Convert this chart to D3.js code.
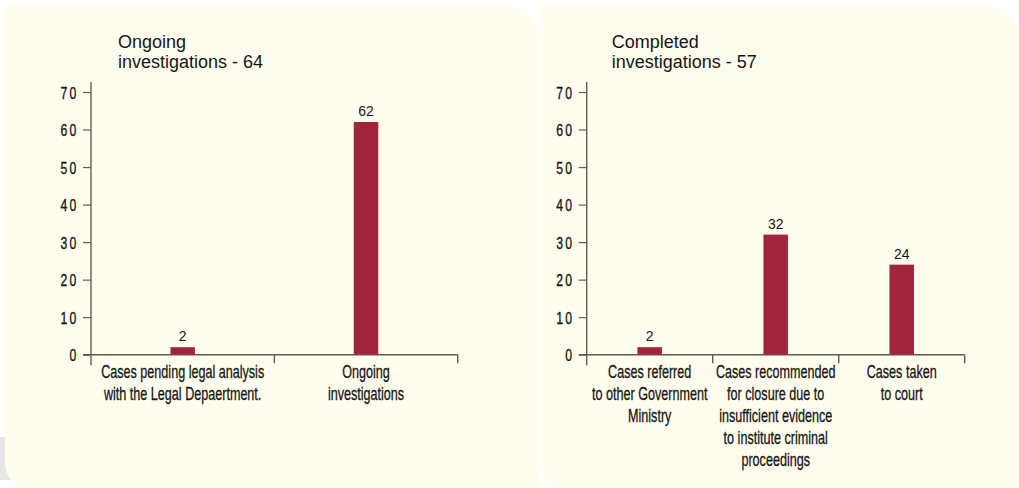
<!DOCTYPE html>
<html>
<head>
<meta charset="utf-8">
<script src="https://cdn.jsdelivr.net/npm/d3@7"></script>
<style>
  html, body { margin: 0; padding: 0; background: #ffffff; }
  svg { display: block; }
</style>
</head>
<body>
<svg id="chart" width="1019" height="488"></svg>
<script>
// ---- data ----
const leftTitle = ["Ongoing", "investigations - 64"];
const leftCategories = [
  ["Cases pending legal analysis", "with the Legal Depaertment."],
  ["Ongoing", "investigations"]
];
const leftValues = [2, 62];

const rightTitle = ["Completed", "investigations - 57"];
const rightCategories = [
  ["Cases referred", "to other Government", "Ministry"],
  ["Cases recommended", "for closure due to", "insufficient evidence", "to institute criminal", "proceedings"],
  ["Cases taken", "to court"]
];
const rightValues = [2, 32, 24];

const yTicks = [0, 10, 20, 30, 40, 50, 60, 70];

// ---- style ----
const panelFill = "#FFFDEE";
const barColor = "#A1253F";
const axisColor = "#5f5d58";
const textColor = "#151515";
const condensed = "'Liberation Sans', Arial, sans-serif";
const plain = "'Liberation Sans', Arial, Helvetica, sans-serif";

const svg = d3.select("#chart");

// grey strip behind left panel
svg.append("rect").attr("x", 0).attr("y", 437).attr("width", 20).attr("height", 43).attr("fill", "#E6E6E6");

// panel shapes
function panelPath(x0, y0, x1, y1, rTR, rBL) {
  const p = d3.path();
  p.moveTo(x0, y0);
  p.lineTo(x1 - rTR, y0);
  p.arcTo(x1, y0, x1, y0 + rTR, rTR);
  p.lineTo(x1, y1);
  p.lineTo(x0 + rBL, y1);
  p.arcTo(x0, y1, x0, y1 - rBL, rBL);
  p.closePath();
  return p.toString();
}
svg.append("path").attr("d", panelPath(5, 6, 539, 490, 32, 27)).attr("fill", panelFill);
svg.append("path").attr("d", panelPath(541, 6, 1021, 490, 36, 27)).attr("fill", panelFill);

function drawChart(opts) {
  const { x0, x1, yTop, yBase, title, titleX, categories, values } = opts;
  const g = svg.append("g");

  const y = d3.scaleLinear().domain([0, 70]).range([yBase, yTop]);
  const x = d3.scaleBand().domain(d3.range(values.length)).range([x0, x1]).paddingInner(0).paddingOuter(0);

  // title
  const t = g.append("text")
    .attr("font-family", plain)
    .attr("font-size", 18)
    .attr("fill", textColor);
  title.forEach((line, i) => {
    t.append("tspan").attr("x", titleX).attr("y", 47.5 + i * 20).text(line);
  });

  // y axis
  const yAxis = d3.axisLeft(y).tickValues(yTicks).tickSize(8).tickPadding(0).tickFormat(d3.format("d"));
  const ya = g.append("g").attr("transform", `translate(${x0},0)`).call(yAxis);
  ya.select(".domain").remove();
  ya.selectAll(".tick line").attr("stroke", axisColor).attr("stroke-width", 1.2);
  ya.selectAll(".tick text").each(function () {
    const el = d3.select(this);
    const txt = el.text();
    el.text(null)
      .attr("x", null)
      .attr("dy", null)
      .attr("transform", "translate(-12.5,0.5) scale(0.72,1)")
      .attr("text-anchor", "end")
      .attr("dominant-baseline", "central")
      .attr("font-family", condensed)
      .attr("font-size", 17)
      .attr("letter-spacing", 3)
      .attr("stroke", textColor)
      .attr("stroke-width", 0.35)
      .attr("fill", textColor)
      .text(txt);
  });
  g.append("line")
    .attr("x1", x0).attr("x2", x0)
    .attr("y1", yTop - 10).attr("y2", yBase + 10.5)
    .attr("stroke", axisColor).attr("stroke-width", 1.4);

  // x axis with labels at category centres
  const xAxis = d3.axisBottom(x).tickSize(0).tickSizeOuter(0).tickFormat("");
  const xa = g.append("g").attr("transform", `translate(0,${yBase})`).call(xAxis);
  xa.select(".domain").attr("stroke", axisColor).attr("stroke-width", 1.4)
    .attr("d", `M${x0 - 8},0H${x1}`);
  xa.selectAll(".tick").each(function (d) {
    const tk = d3.select(this);
    tk.select("text").remove();
    const lab = tk.append("text")
      .attr("transform", "scale(0.7,1)")
      .attr("text-anchor", "middle")
      .attr("font-family", condensed)
      .attr("font-size", 18)
      .attr("stroke", textColor)
      .attr("stroke-width", 0.3)
      .attr("fill", textColor);
    categories[d].forEach((line, i) => {
      lab.append("tspan").attr("x", 0).attr("y", 23 + i * 22).text(line);
    });
  });
  // category boundary ticks
  g.selectAll(".bound")
    .data(d3.range(values.length))
    .join("line")
    .attr("x1", d => x(d) + x.bandwidth())
    .attr("x2", d => x(d) + x.bandwidth())
    .attr("y1", yBase)
    .attr("y2", yBase + 8.5)
    .attr("stroke", axisColor)
    .attr("stroke-width", 1.4);

  // bars
  const bw = 24.5;
  g.selectAll(".bar")
    .data(values)
    .join("rect")
    .attr("x", (d, i) => x(i) + x.bandwidth() / 2 - bw / 2)
    .attr("y", d => y(d))
    .attr("width", bw)
    .attr("height", d => y(0) - y(d))
    .attr("fill", barColor);

  // value labels
  g.selectAll(".val")
    .data(values)
    .join("text")
    .attr("x", (d, i) => x(i) + x.bandwidth() / 2)
    .attr("y", d => y(d) - 6)
    .attr("text-anchor", "middle")
    .attr("font-family", plain)
    .attr("font-size", 14)
    .attr("fill", textColor)
    .text(d => d);
}

drawChart({ x0: 91, x1: 457.7, yTop: 92, yBase: 354.7, title: leftTitle, titleX: 118, categories: leftCategories, values: leftValues });
drawChart({ x0: 586.7, x1: 964.7, yTop: 92, yBase: 354.7, title: rightTitle, titleX: 611.7, categories: rightCategories, values: rightValues });
</script>
</body>
</html>
